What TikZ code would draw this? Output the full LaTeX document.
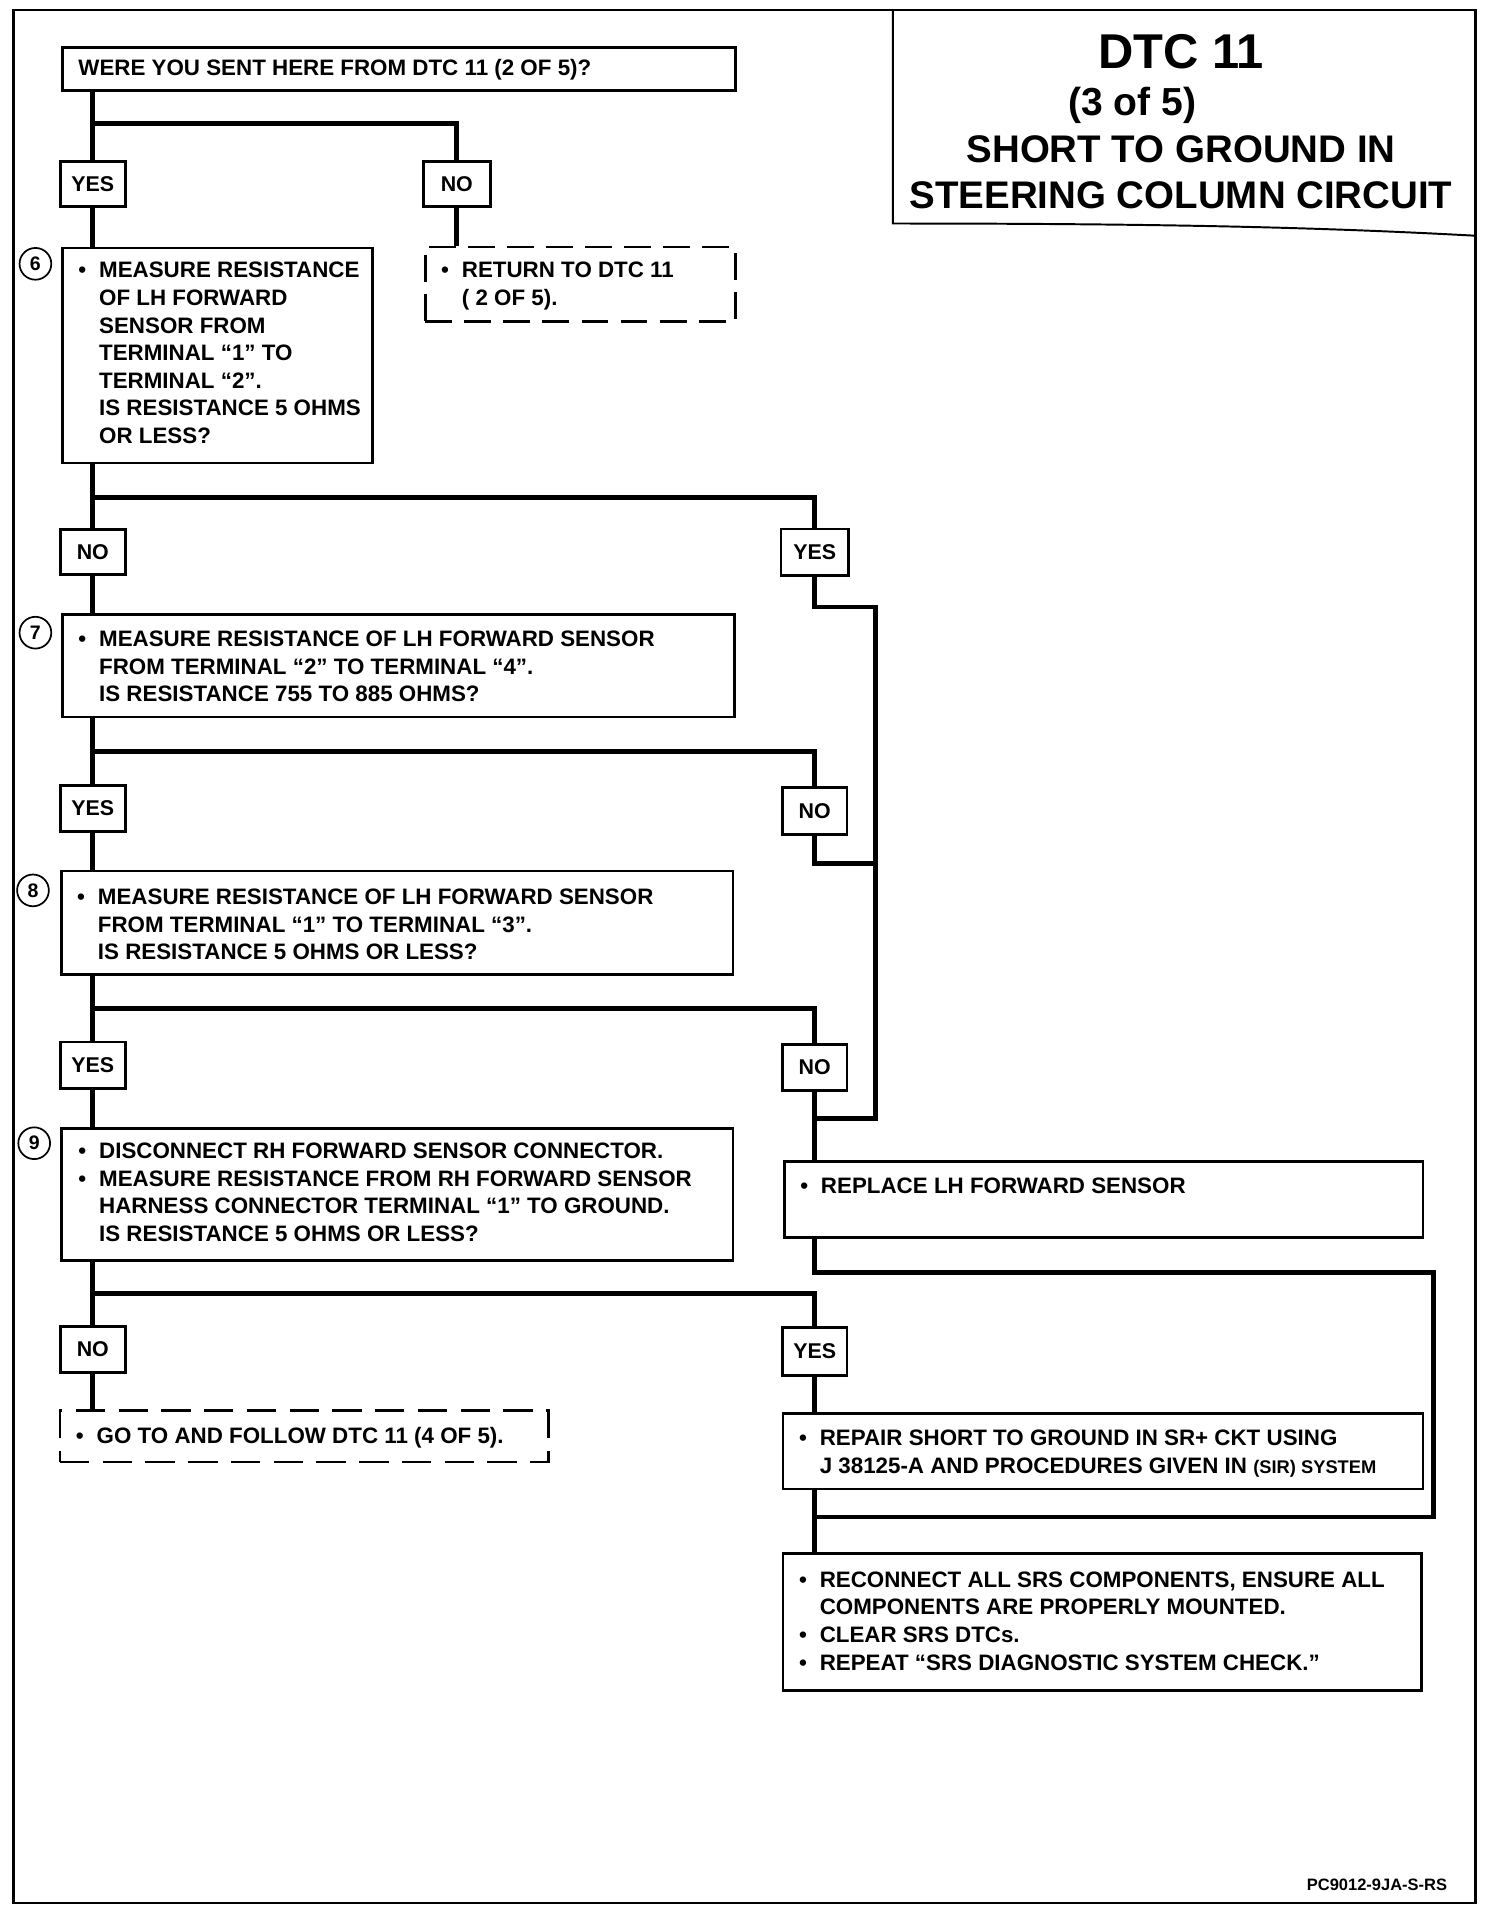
\documentclass[tikz,border=0pt]{standalone}
\usepackage{fontspec}
\setmainfont{Liberation Sans}
\usetikzlibrary{calc}
\newcommand{\bodyfont}{\fontsize{18.3}{22.6}\selectfont\bfseries}
\newcommand{\bl}{\makebox[17pt][l]{\textbullet}}
\tikzset{
  box/.style={draw, line width=2.2pt, fill=white, anchor=north west, inner sep=0pt},
  dbox/.style={draw, line width=2.2pt, fill=white, anchor=north west, inner sep=0pt, dash pattern=on 22pt off 10pt},
  lbl/.style={draw, line width=2.2pt, fill=white, minimum width=53pt, minimum height=37pt, inner sep=0pt, font=\fontsize{17.5}{20}\selectfont\bfseries},
  txt/.style={anchor=base west, inner sep=0pt, font=\bodyfont},
  conn/.style={line width=4pt},
  num/.style={circle, draw, line width=1.4pt, minimum size=26pt, inner sep=0pt, font=\fontsize{16}{16}\selectfont\bfseries},
  ttl/.style={inner sep=0pt, font=\fontsize{31.5}{34}\selectfont\bfseries}
}
\begin{document}
\begin{tikzpicture}[x=1pt,y=-1pt]
\useasboundingbox (0,0) rectangle (1231.5,1572);
% outer frame and title box
\draw[line width=2pt] (11,8) rectangle (1208,1558);
\draw[line width=1.6pt] (731,8) -- (731,183) .. controls (950,183) and (1080,186) .. (1208,193);
\node[inner sep=0pt, font=\fontsize{40}{42}\selectfont\bfseries] (t1) at (967,42) {DTC 11};
\node[inner sep=0pt, font=\fontsize{32}{34}\selectfont\bfseries] (t2) at (927,86) {(3 of 5)};
\node[ttl] (t3) at (967,122) {SHORT TO GROUND IN};
\node[ttl] (t4) at (967,160) {STEERING COLUMN CIRCUIT};

% boxes
\node[box, minimum width=551pt, minimum height=35pt] (q0) at (50,38) {};
\node[txt] (q0t) at (64,61.5) {WERE YOU SENT HERE FROM DTC 11 (2 OF 5)?};

\node[lbl] (yes1) at (76,150.5) {YES};
\node[lbl, minimum width=55pt] (no1) at (374,150.5) {NO};

\node[box, minimum width=254pt, minimum height=176pt] (b6) at (50,202) {};
\node[txt] (b6t) at (64,227.5) {\begin{tabular}[t]{@{}l@{}l@{}}
\bl & MEASURE RESISTANCE\\
 & OF LH FORWARD\\
 & SENSOR FROM\\
 & TERMINAL “1” TO\\
 & TERMINAL “2”.\\
 & IS RESISTANCE 5 OHMS\\
 & OR LESS?\end{tabular}};
\node[num] (n6) at (29,216) {6};

\node[dbox, minimum width=254pt, minimum height=61pt] (ret) at (347,201) {};
\node[txt] (rett) at (361,227.5) {\begin{tabular}[t]{@{}l@{}l@{}}
\bl & RETURN TO DTC 11\\
 & ( 2 OF 5).\end{tabular}};

\node[lbl] (no2) at (76,452) {NO};
\node[lbl, minimum width=55pt, minimum height=38pt] (yes2) at (667,452) {YES};

\node[box, minimum width=550pt, minimum height=84pt] (b7) at (50,502) {};
\node[txt] (b7t) at (64,529.5) {\begin{tabular}[t]{@{}l@{}l@{}}
\bl & MEASURE RESISTANCE OF LH FORWARD SENSOR\\
 & FROM TERMINAL “2” TO TERMINAL “4”.\\
 & IS RESISTANCE 755 TO 885 OHMS?\end{tabular}};
\node[num] (n7) at (29,518) {7};

\node[lbl, minimum height=38pt] (yes3) at (76,662) {YES};
\node[lbl, minimum height=38pt] (no3) at (667,664) {NO};

\node[box, minimum width=550pt, minimum height=85pt] (b8) at (49,712) {};
\node[txt] (b8t) at (63,740.5) {\begin{tabular}[t]{@{}l@{}l@{}}
\bl & MEASURE RESISTANCE OF LH FORWARD SENSOR\\
 & FROM TERMINAL “1” TO TERMINAL “3”.\\
 & IS RESISTANCE 5 OHMS OR LESS?\end{tabular}};
\node[num] (n8) at (27,729) {8};

\node[lbl, minimum height=38pt] (yes4) at (76,872) {YES};
\node[lbl, minimum height=38pt] (no4) at (667,874) {NO};

\node[box, minimum width=550pt, minimum height=108pt] (b9) at (49,923) {};
\node[txt] (b9t) at (64,948.5) {\begin{tabular}[t]{@{}l@{}l@{}}
\bl & DISCONNECT RH FORWARD SENSOR CONNECTOR.\\
\bl & MEASURE RESISTANCE FROM RH FORWARD SENSOR\\
 & HARNESS CONNECTOR TERMINAL “1” TO GROUND.\\
 & IS RESISTANCE 5 OHMS OR LESS?\end{tabular}};
\node[num] (n9) at (28,936) {9};

\node[box, minimum width=523pt, minimum height=62pt] (rep) at (641,950) {};
\node[txt] (rept) at (655,977.5) {\begin{tabular}[t]{@{}l@{}l@{}}
\bl & REPLACE LH FORWARD SENSOR\end{tabular}};

\node[lbl, minimum height=38pt] (no5) at (76,1105) {NO};
\node[lbl, minimum height=39pt] (yes5) at (667,1106.5) {YES};

\node[dbox, minimum width=400pt, minimum height=42pt, dash pattern=on 24pt off 11pt] (goto) at (48,1154) {};
\node[txt] (gotot) at (62,1181.5) {\begin{tabular}[t]{@{}l@{}l@{}}
\bl & GO TO AND FOLLOW DTC 11 (4 OF 5).\end{tabular}};

\node[box, minimum width=524pt, minimum height=62pt] (repair) at (640,1156) {};
\node[txt] (repairt) at (654,1183.5) {\begin{tabular}[t]{@{}l@{}l@{}}
\bl & REPAIR SHORT TO GROUND IN SR+ CKT USING\\
 & J 38125-A AND PROCEDURES GIVEN IN {\fontsize{15}{18}\selectfont(SIR) SYSTEM}\end{tabular}};

\node[box, minimum width=523pt, minimum height=112pt] (fin) at (640,1271) {};
\node[txt] (fint) at (654,1299.5) {\begin{tabular}[t]{@{}l@{}l@{}}
\bl & RECONNECT ALL SRS COMPONENTS, ENSURE ALL\\
 & COMPONENTS ARE PROPERLY MOUNTED.\\
\bl & CLEAR SRS DTCs.\\
\bl & REPEAT “SRS DIAGNOSTIC SYSTEM CHECK.”\end{tabular}};

\node[anchor=base east, inner sep=0pt, font=\fontsize{13.5}{15}\selectfont\bfseries] (foot) at (1185,1548) {PC9012-9JA-S-RS};

% branch coordinates
\coordinate (br1) at (76,101);
\coordinate (br2) at (76,407);
\coordinate (br3) at (76,615);
\coordinate (br4) at (76,826);
\coordinate (br5) at (76,1059);
\coordinate (c1) at (717,497);
\coordinate (c2) at (717,707);
\coordinate (m1) at (717,916);
\coordinate (j1) at (667,916);
\coordinate (c3) at (1174,1042);
\coordinate (j2) at (667,1242);

% connectors
\draw[conn] (q0.south -| yes1) -- (yes1.north);
\draw[conn] (br1) -| (no1.north);
\draw[conn] (yes1.south) -- (yes1.south |- b6.north);
\draw[conn] (no1.south) -- (no1.south |- ret.north);

\draw[conn] (b6.south -| no2) -- (no2.north);
\draw[conn] (br2) -| (yes2.north);
\draw[conn] (no2.south) -- (no2.south |- b7.north);
\draw[conn] (yes2.south) |- (c1) -- (m1) -- (j1);

\draw[conn] (b7.south -| yes3) -- (yes3.north);
\draw[conn] (br3) -| (no3.north);
\draw[conn] (yes3.south) -- (yes3.south |- b8.north);
\draw[conn] (no3.south) |- (c2);

\draw[conn] (b8.south -| yes4) -- (yes4.north);
\draw[conn] (br4) -| (no4.north);
\draw[conn] (yes4.south) -- (yes4.south |- b9.north);
\draw[conn] (no4.south) -- (no4.south |- rep.north);

\draw[conn] (rep.south -| no4) |- (c3) |- (j2);

\draw[conn] (b9.south -| no5) -- (no5.north);
\draw[conn] (br5) -| (yes5.north);
\draw[conn] (no5.south) -- (no5.south |- goto.north);
\draw[conn] (yes5.south) -- (yes5.south |- repair.north);
\draw[conn] (repair.south -| yes5) -- (yes5 |- fin.north);
\end{tikzpicture}
\end{document}
